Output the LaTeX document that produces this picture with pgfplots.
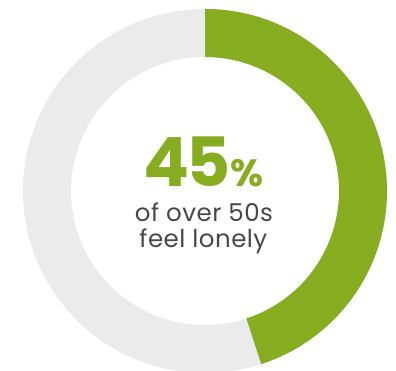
\documentclass[border=0pt]{standalone}
\usepackage{fontspec}
\setmainfont{Poppins}
\usepackage{pgfplots}
\usepackage{pgfplotstable}
\pgfplotsset{compat=1.18}
\definecolor{ringgreen}{HTML}{86AD1F}
\definecolor{ringgrey}{HTML}{EBEBEB}
\definecolor{txtgrey}{HTML}{474747}
\pgfplotstableread{
label value
lonely 45
other 55
}\donutdata
\pgfplotstablegetelem{0}{value}\of\donutdata
\pgfmathsetmacro{\greenangle}{360*\pgfplotsretval/100}
\pgfmathsetmacro{\greenend}{90-\greenangle}
\begin{document}
\begin{tikzpicture}
\begin{axis}[
  x=1pt, y=1pt,
  xmin=0, xmax=396, ymin=0, ymax=370,
  enlargelimits=false,
  hide axis, clip=true,
]
\begin{scope}[shift={(axis cs:205,179)}]
  \fill[ringgrey] (90:182pt) arc[start angle=90, end angle=-270, radius=182pt]
     -- (-270:134pt) arc[start angle=-270, end angle=90, radius=134pt] -- cycle;
  \fill[ringgreen] (90:182pt) arc[start angle=90, end angle=\greenend, radius=182pt]
     -- (\greenend:134pt) arc[start angle=\greenend, end angle=90, radius=134pt] -- cycle;
\end{scope}
\node[anchor=base, text=ringgreen, font=\fontsize{68}{68}\selectfont\bfseries\addfontfeature{Numbers=Proportional,LetterSpace=-4}, inner sep=0pt]
  at (axis cs:203.5,184) {45\fontsize{38}{38}\selectfont\%};
\node[anchor=base, text=txtgrey, font=\fontsize{24.5}{24.5}\selectfont\addfontfeature{LetterSpace=2}, inner sep=0pt]
  at (axis cs:204,148.3) {of over 50s};
\node[anchor=base, text=txtgrey, font=\fontsize{24.5}{24.5}\selectfont\addfontfeature{LetterSpace=2}, inner sep=0pt]
  at (axis cs:203.4,122.7) {feel lonely};
\end{axis}
\pgfresetboundingbox
\path[use as bounding box] (current axis.south west) rectangle (current axis.north east);
\end{tikzpicture}
\end{document}
